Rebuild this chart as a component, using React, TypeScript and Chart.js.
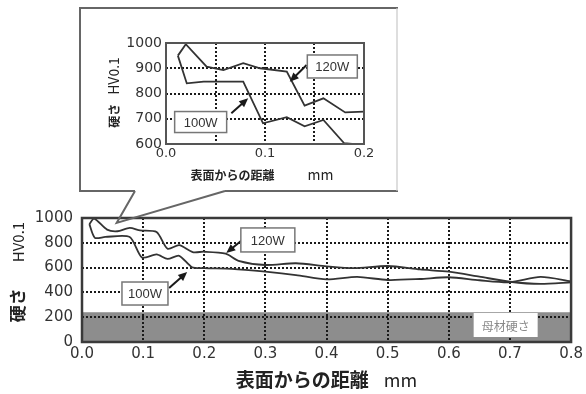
import React, { useEffect, useRef } from 'react';
import { Chart, registerables } from 'chart.js';

Chart.register(...registerables);

// ---------------- data ----------------
const seriesLabels = ['120W', '100W'];
const distance120 = [0.012, 0.02, 0.041, 0.058, 0.078, 0.095, 0.122, 0.14, 0.159, 0.181, 0.2, 0.235, 0.256, 0.3, 0.35, 0.4, 0.445, 0.5, 0.553, 0.6, 0.65, 0.7, 0.75, 0.8];
const hardness120 = [950, 995, 906, 893, 920, 900, 887, 752, 781, 725, 728, 712, 655, 621, 635, 610, 595, 613, 585, 567, 527, 486, 468, 482];
const distance100 = [0.012, 0.021, 0.038, 0.078, 0.098, 0.122, 0.14, 0.159, 0.18, 0.2, 0.245, 0.3, 0.35, 0.4, 0.45, 0.5, 0.553, 0.6, 0.65, 0.7, 0.75, 0.8];
const hardness100 = [950, 840, 847, 847, 682, 706, 670, 695, 603, 596, 590, 567, 540, 505, 525, 500, 508, 522, 498, 482, 525, 490];
const baseMetalHardness = 240; // 母材硬さ band
const mainXTicks = [0, 0.1, 0.2, 0.3, 0.4, 0.5, 0.6, 0.7, 0.8];
const mainYTicks = [0, 200, 400, 600, 800, 1000];
const insetXTicks = [0, 0.05, 0.1, 0.15, 0.2];
const insetXLabels = ['0.0', '', '0.1', '', '0.2'];
const insetYTicks = [600, 700, 800, 900, 1000];
const xTitleMain = '表面からの距離';
const xTitleUnit = 'mm';
const yTitleMain = '硬さ';
const yTitleUnit = 'HV0.1';

// ---------------- helpers ----------------
function drawTag(ctx: CanvasRenderingContext2D, cx: number, cy: number, w: number, h: number, text: string, font: string, color: string, border: string | null) {
  ctx.save();
  ctx.fillStyle = '#ffffff';
  ctx.fillRect(cx - w / 2, cy - h / 2, w, h);
  if (border) {
    ctx.strokeStyle = border;
    ctx.lineWidth = 1.5;
    ctx.strokeRect(cx - w / 2, cy - h / 2, w, h);
  }
  ctx.fillStyle = color;
  ctx.font = font;
  ctx.textAlign = 'center';
  ctx.textBaseline = 'middle';
  ctx.fillText(text, cx, cy + 1);
  ctx.restore();
}

function drawArrow(ctx: CanvasRenderingContext2D, x1: number, y1: number, x2: number, y2: number) {
  const ang = Math.atan2(y2 - y1, x2 - x1);
  const L = 9;
  const W = 4;
  const c = Math.cos(ang);
  const s = Math.sin(ang);
  ctx.save();
  ctx.strokeStyle = '#1a1a1a';
  ctx.fillStyle = '#1a1a1a';
  ctx.lineWidth = 2;
  ctx.beginPath();
  ctx.moveTo(x1, y1);
  ctx.lineTo(x2 - L * 0.7 * c, y2 - L * 0.7 * s);
  ctx.stroke();
  ctx.beginPath();
  ctx.moveTo(x2, y2);
  ctx.lineTo(x2 - L * c + W * s, y2 - L * s - W * c);
  ctx.lineTo(x2 - L * c - W * s, y2 - L * s + W * c);
  ctx.closePath();
  ctx.fill();
  ctx.restore();
}

type Part = { text: string; font: string; size: number; gap: number };

function drawParts(ctx: CanvasRenderingContext2D, parts: Part[], cx: number, cy: number, rotate: boolean) {
  ctx.save();
  ctx.translate(cx, cy);
  if (rotate) ctx.rotate(-Math.PI / 2);
  const widths = parts.map((p) => {
    ctx.font = p.font;
    return ctx.measureText(p.text).width;
  });
  const total = widths.reduce((a, w, i) => a + w + (i < parts.length - 1 ? parts[i].gap : 0), 0);
  let x = -total / 2;
  const base = parts[0].size * 0.36;
  ctx.fillStyle = '#222';
  ctx.textAlign = 'left';
  ctx.textBaseline = 'alphabetic';
  parts.forEach((p, i) => {
    ctx.font = p.font;
    ctx.fillText(p.text, x, base);
    x += widths[i] + p.gap;
  });
  ctx.restore();
}

type Tag = { text: string; x: number; y: number; w: number; h: number; from?: [number, number]; to?: [number, number]; font: string; color: string; border: string | null };

const mainTags: Tag[] = [
  { text: seriesLabels[0], x: 0.304, y: 823, w: 54, h: 24, from: [0.264, 831], to: [0.236, 718], font: '13px "Liberation Sans"', color: '#333', border: '#777' },
  { text: seriesLabels[1], x: 0.103, y: 391, w: 46, h: 23, from: [0.1425, 435], to: [0.172, 565], font: '13px "Liberation Sans"', color: '#333', border: '#777' },
  { text: '母材硬さ', x: 0.693, y: 137, w: 64, h: 24, font: '12px "Noto Sans CJK JP"', color: '#8a8a8a', border: null },
];
const insetTags: Tag[] = [
  { text: seriesLabels[0], x: 0.168, y: 907, w: 50, h: 23, from: [0.142, 913], to: [0.125, 847], font: '13px "Liberation Sans"', color: '#333', border: '#777' },
  { text: seriesLabels[1], x: 0.035, y: 687, w: 52, h: 21, from: [0.066, 722], to: [0.083, 781], font: '13px "Liberation Sans"', color: '#333', border: '#777' },
];
const calloutTip: [number, number] = [0.0567, 960];

function makeDatasets(tension: number) {
  return [
    {
      label: seriesLabels[0],
      data: distance120.map((x, i) => ({ x, y: hardness120[i] })),
      borderColor: '#333333',
      borderWidth: 1.8,
      pointRadius: 0,
      tension,
      fill: false,
    },
    {
      label: seriesLabels[1],
      data: distance100.map((x, i) => ({ x, y: hardness100[i] })),
      borderColor: '#333333',
      borderWidth: 1.8,
      pointRadius: 0,
      tension,
      fill: false,
    },
  ];
}

function drawTags(chart: any, tags: Tag[]) {
  const { ctx, scales } = chart;
  const xs = scales.x;
  const ys = scales.y;
  tags.forEach((t) => {
    if (t.from && t.to) {
      drawArrow(ctx, xs.getPixelForValue(t.from[0]), ys.getPixelForValue(t.from[1]), xs.getPixelForValue(t.to[0]), ys.getPixelForValue(t.to[1]));
    }
    drawTag(ctx, xs.getPixelForValue(t.x), ys.getPixelForValue(t.y), t.w, t.h, t.text, t.font, t.color, t.border);
  });
}

function drawFrame(chart: any, width: number, color: string) {
  const { ctx, chartArea: a } = chart;
  ctx.save();
  ctx.strokeStyle = color;
  ctx.lineWidth = width;
  ctx.strokeRect(a.left, a.top, a.right - a.left, a.bottom - a.top);
  ctx.restore();
}

const gridOpts = { color: '#1a1a1a', lineWidth: 2, drawTicks: false };
const borderOpts = { display: false, dash: [2, 2] };
const JP = '"Noto Sans CJK JP"';

export default function App() {
  const mainRef = useRef<HTMLCanvasElement>(null);
  const insetRef = useRef<HTMLCanvasElement>(null);

  useEffect(() => {
    const mainPlugin = {
      id: 'mainDecor',
      beforeDraw(chart: any) {
        const { ctx, chartArea: a, scales } = chart;
        const yTop = scales.y.getPixelForValue(baseMetalHardness);
        const yBot = scales.y.getPixelForValue(0);
        ctx.save();
        ctx.fillStyle = '#8d8d8d';
        ctx.fillRect(a.left, yTop, a.right - a.left, yBot - yTop);
        ctx.restore();
      },
      afterDraw(chart: any) {
        const { ctx, scales, chartArea: a } = chart;
        drawFrame(chart, 2.5, '#3a3a3a');
        drawTags(chart, mainTags);
        // axis titles
        drawParts(ctx, [
          { text: xTitleMain, font: `bold 19px ${JP}`, size: 19, gap: 15 },
          { text: xTitleUnit, font: `18px ${JP}`, size: 18, gap: 0 },
        ], (a.left + a.right) / 2, chart.height - 14, false);
        drawParts(ctx, [
          { text: yTitleMain, font: `bold 17px ${JP}`, size: 17, gap: 26 },
          { text: yTitleUnit, font: `15px ${JP}`, size: 15, gap: 0 },
        ], 18, (a.top + a.bottom) / 2 - 8, true);
        // callout box for the inset
        const tx = scales.x.getPixelForValue(calloutTip[0]);
        const ty = scales.y.getPixelForValue(calloutTip[1]);
        ctx.save();
        ctx.strokeStyle = '#666';
        ctx.lineWidth = 2;
        ctx.beginPath();
        ctx.moveTo(135, 191);
        ctx.lineTo(80, 191);
        ctx.lineTo(80, 8);
        ctx.lineTo(398, 8);
        ctx.moveTo(398, 191);
        ctx.lineTo(225, 191);
        ctx.moveTo(135, 191);
        ctx.lineTo(tx, ty);
        ctx.lineTo(225, 191);
        ctx.stroke();
        ctx.strokeStyle = '#c8c8c8';
        ctx.lineWidth = 1.2;
        ctx.beginPath();
        ctx.moveTo(397, 8);
        ctx.lineTo(397, 191);
        ctx.stroke();
        ctx.restore();
      },
    };

    const main = new Chart(mainRef.current as HTMLCanvasElement, {
      type: 'line',
      data: { datasets: makeDatasets(0.25) as any },
      options: {
        responsive: false,
        animation: false,
        devicePixelRatio: 1,
        layout: { padding: { left: 0, top: 218, right: 10, bottom: 0 } },
        plugins: { legend: { display: false }, tooltip: { enabled: false } },
        scales: {
          x: {
            type: 'linear',
            min: 0,
            max: 0.8,
            afterBuildTicks: (s: any) => {
              s.ticks = mainXTicks.map((value) => ({ value }));
            },
            afterFit: (s: any) => {
              s.height = 52;
            },
            grid: gridOpts,
            border: borderOpts,
            ticks: {
              padding: 3,
              color: '#333',
              autoSkip: false,
              maxRotation: 0,
              font: { family: 'DejaVu Sans', size: 15 },
              callback: (v: any) => Number(v).toFixed(1),
            },
            title: { display: false },
          },
          y: {
            type: 'linear',
            min: 0,
            max: 1000,
            afterBuildTicks: (s: any) => {
              s.ticks = mainYTicks.map((value) => ({ value }));
            },
            afterFit: (s: any) => {
              s.width = 82;
            },
            grid: gridOpts,
            border: borderOpts,
            ticks: {
              padding: 9,
              color: '#333',
              font: { family: 'DejaVu Sans', size: 15 },
              callback: (v: any) => String(v),
            },
            title: { display: false },
          },
        },
      } as any,
      plugins: [mainPlugin as any],
    });

    const insetPlugin = {
      id: 'insetDecor',
      afterDraw(chart: any) {
        const { ctx, chartArea: a } = chart;
        drawFrame(chart, 2, '#555');
        drawTags(chart, insetTags);
        drawParts(ctx, [
          { text: xTitleMain, font: `bold 12px ${JP}`, size: 12, gap: 33 },
          { text: xTitleUnit, font: `14px ${JP}`, size: 14, gap: 0 },
        ], (a.left + a.right) / 2 - 3, chart.height - 14, false);
        drawParts(ctx, [
          { text: yTitleMain, font: `bold 12px ${JP}`, size: 12, gap: 9 },
          { text: yTitleUnit, font: `14px ${JP}`, size: 14, gap: 0 },
        ], 33, (a.top + a.bottom) / 2 - 1, true);
      },
    };

    const inset = new Chart(insetRef.current as HTMLCanvasElement, {
      type: 'line',
      data: { datasets: makeDatasets(0) as any },
      options: {
        responsive: false,
        animation: false,
        devicePixelRatio: 1,
        layout: { padding: { left: 0, top: 34, right: 13, bottom: 0 } },
        plugins: { legend: { display: false }, tooltip: { enabled: false } },
        scales: {
          x: {
            type: 'linear',
            min: 0,
            max: 0.2,
            afterBuildTicks: (s: any) => {
              s.ticks = insetXTicks.map((value) => ({ value }));
            },
            afterFit: (s: any) => {
              s.height = 46;
            },
            grid: gridOpts,
            border: borderOpts,
            ticks: {
              padding: 2,
              color: '#333',
              autoSkip: false,
              maxRotation: 0,
              font: { family: 'DejaVu Sans', size: 13 },
              callback: (_v: any, i: number) => insetXLabels[i],
            },
            title: { display: false },
          },
          y: {
            type: 'linear',
            min: 600,
            max: 1000,
            afterBuildTicks: (s: any) => {
              s.ticks = insetYTicks.map((value) => ({ value }));
            },
            afterFit: (s: any) => {
              s.width = 84;
            },
            grid: gridOpts,
            border: borderOpts,
            ticks: {
              padding: 4,
              color: '#333',
              font: { family: 'DejaVu Sans', size: 14 },
              callback: (v: any) => String(v),
            },
            title: { display: false },
          },
        },
      } as any,
      plugins: [insetPlugin as any],
    });

    return () => {
      main.destroy();
      inset.destroy();
    };
  }, []);

  return (
    <div style={{ position: 'absolute', left: 0, top: 0, width: 586, height: 394, background: '#fff' }}>
      <canvas ref={mainRef} width={586} height={394} style={{ position: 'absolute', left: 0, top: 0, width: 586, height: 394 }} />
      <canvas ref={insetRef} width={295} height={181} style={{ position: 'absolute', left: 82, top: 9, width: 295, height: 181 }} />
    </div>
  );
}
